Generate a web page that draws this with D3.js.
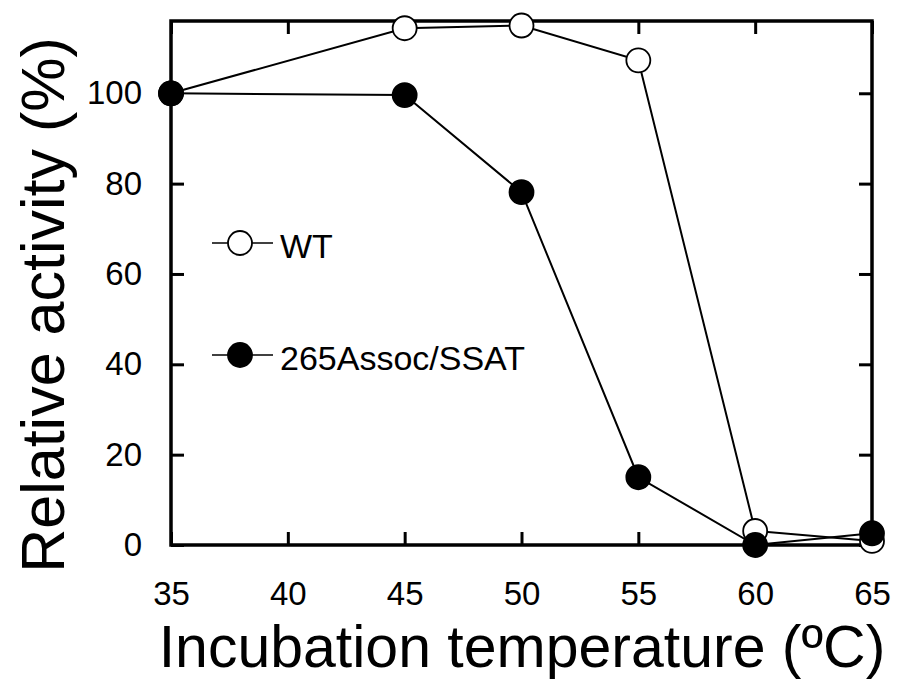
<!DOCTYPE html>
<html>
<head>
<meta charset="utf-8">
<script src="https://cdn.jsdelivr.net/npm/d3@7"></script>
<style>
  body { margin: 0; background: #fff; }
  text { font-family: "Liberation Sans", Arial, sans-serif; fill: #000; }
</style>
</head>
<body>
<svg id="chart"></svg>
<script>
// data
var temps = [35, 45, 50, 55, 60, 65];
var wtValues = [100, 114.4, 115.0, 107.3, 3.1, 0.9];
var mutValues = [100, 99.6, 78.1, 15.0, 0, 2.6];
var xTicks = [35, 40, 45, 50, 55, 60, 65];
var yTicks = [0, 20, 40, 60, 80, 100];
var seriesNames = ["WT", "265Assoc/SSAT"];

var settings = {
  width: 900,
  height: 683,
  plot: { left: 171, right: 872, top: 21, bottom: 545 },
  markerR: 12,
  tickLen: 13
};

var svg = d3.select("#chart")
  .attr("width", settings.width)
  .attr("height", settings.height);

var xScale = d3.scaleLinear()
  .domain([35, 65])
  .range([settings.plot.left, settings.plot.right]);
var yScale = d3.scaleLinear()
  .domain([0, 116])
  .range([settings.plot.bottom, settings.plot.top]);

// axes with inward ticks, mirrored on top/right
var xAxisB = d3.axisBottom(xScale).tickValues(xTicks).tickSize(-settings.tickLen);
var xAxisT = d3.axisTop(xScale).tickValues(xTicks).tickSize(-settings.tickLen).tickFormat("");
var yAxisL = d3.axisLeft(yScale).tickValues(yTicks).tickSize(-settings.tickLen);
var yAxisR = d3.axisRight(yScale).tickValues(yTicks).tickSize(-settings.tickLen).tickFormat("");

function styleAxis(g) {
  g.select(".domain").remove();
  g.selectAll(".tick line").attr("stroke", "#000").attr("stroke-width", 3);
  g.selectAll(".tick text").style("font-size", "33px").attr("fill", "#000");
}

svg.append("g")
  .attr("transform", "translate(0," + settings.plot.bottom + ")")
  .call(xAxisB).call(styleAxis)
  .selectAll(".tick text").attr("dy", "0.71em").attr("y", 37);
svg.append("g")
  .attr("transform", "translate(0," + settings.plot.top + ")")
  .call(xAxisT).call(styleAxis);
svg.append("g")
  .attr("transform", "translate(" + settings.plot.left + ",0)")
  .call(yAxisL).call(styleAxis)
  .selectAll(".tick text").attr("x", -29);
svg.append("g")
  .attr("transform", "translate(" + settings.plot.right + ",0)")
  .call(yAxisR).call(styleAxis);

// frame
svg.append("rect")
  .attr("x", settings.plot.left)
  .attr("y", settings.plot.top)
  .attr("width", settings.plot.right - settings.plot.left)
  .attr("height", settings.plot.bottom - settings.plot.top)
  .attr("fill", "none")
  .attr("stroke", "#000")
  .attr("stroke-width", 3.5);

var line = d3.line()
  .x(function(d) { return xScale(d.t); })
  .y(function(d) { return yScale(d.v); });

var wtData = temps.map(function(t, i) { return { t: t, v: wtValues[i] }; });
var mutData = temps.map(function(t, i) { return { t: t, v: mutValues[i] }; });

function drawSeries(data, fill) {
  svg.append("path")
    .datum(data)
    .attr("d", line)
    .attr("fill", "none")
    .attr("stroke", "#000")
    .attr("stroke-width", 2);
  svg.selectAll(null)
    .data(data)
    .enter().append("circle")
    .attr("cx", function(d) { return xScale(d.t); })
    .attr("cy", function(d) { return yScale(d.v); })
    .attr("r", settings.markerR)
    .attr("fill", fill)
    .attr("stroke", "#000")
    .attr("stroke-width", 1.8);
}

drawSeries(wtData, "#fff");
drawSeries(mutData, "#000");

// legend
var legend = [
  { name: seriesNames[0], fill: "#fff", y: 243 },
  { name: seriesNames[1], fill: "#000", y: 355 }
];
var lg = svg.selectAll(".legend")
  .data(legend)
  .enter().append("g")
  .attr("class", "legend")
  .attr("transform", function(d) { return "translate(240," + d.y + ")"; });
lg.append("line")
  .attr("x1", -28).attr("x2", 33)
  .attr("stroke", "#000").attr("stroke-width", 1.5);
lg.append("circle")
  .attr("r", settings.markerR)
  .attr("fill", function(d) { return d.fill; })
  .attr("stroke", "#000").attr("stroke-width", 1.8);
lg.append("text")
  .attr("x", 40).attr("y", 15)
  .style("font-size", "34px")
  .text(function(d) { return d.name; });

// axis titles
svg.append("text")
  .attr("x", 522).attr("y", 667)
  .attr("text-anchor", "middle")
  .style("font-size", "59px")
  .text("Incubation temperature (ºC)");
svg.append("text")
  .attr("transform", "translate(64,305) rotate(-90)")
  .attr("text-anchor", "middle")
  .style("font-size", "61px")
  .text("Relative activity (%)");
</script>
</body>
</html>
